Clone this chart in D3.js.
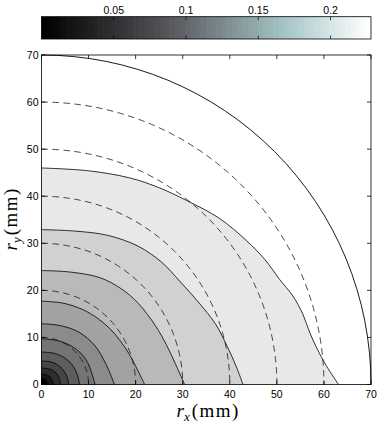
<!DOCTYPE html>
<html>
<head>
<meta charset="utf-8">
<script src="https://cdn.jsdelivr.net/npm/d3@7"></script>
<style>
  body { margin: 0; background: #fff; }
  svg { display: block; }
  text { font-family: "Liberation Sans", Arial, sans-serif; }
  text.title { font-family: "Liberation Serif", "Times New Roman", serif; }
</style>
</head>
<body>
<svg width="382" height="423"></svg>
<script>
'use strict'

// ---- data (mm) ----
var xTicks = [0, 10, 20, 30, 40, 50, 60, 70];
var yTicks = [0, 10, 20, 30, 40, 50, 60, 70];
var cbTicks = [0.05, 0.1, 0.15, 0.2];
var cbDomain = [0, 0.228];

// dashed reference circles
var dashedRadii = [10, 20, 30, 40, 50, 60];
// outer boundary of the data
var boundaryRadius = 70;

// solid contours, innermost first, each from the ry axis to the rx axis
var c1 = [[0, 1.2], [0.7, 1.05], [1.1, 0.6], [1.3, 0]];
var c2 = [[0, 2.2], [1.1, 2.05], [1.8, 1.6], [2.3, 0.9], [2.5, 0]];
var c3 = [[0, 3.5], [1.7, 3.3], [2.8, 2.7], [3.6, 1.8], [4.1, 0]];
var c4 = [[0, 5.0], [2.2, 4.75], [3.8, 3.9], [4.9, 2.7], [5.5, 1.4], [5.8, 0]];
var c5 = [[0, 6.9], [2.8, 6.6], [5, 5.6], [6.5, 4.2], [7.5, 2.4], [8.1, 0]];
var c6 = [[0, 9.7], [3.3, 9.35], [6.3, 8.2], [8.4, 6.6], [9.8, 4.7], [10.6, 2.6], [11.4, 0]];
var c7 = [[0, 12.9], [3.5, 12.6], [7.2, 11.5], [9.8, 9.8], [11.7, 7.8], [13.1, 5.5], [14.3, 3], [15.5, 0]];
var c8 = [[0, 17.7], [4.5, 17.3], [8.8, 15.9], [12, 14], [14.6, 11.8], [16.8, 9.2], [18.6, 6.5],
          [20.2, 3.5], [21.9, 0]];
var c9 = [[0, 24.2], [6, 23.9], [12.4, 22.7], [17, 20.3], [20.6, 17.2], [24.2, 12.5], [26.5, 8.5],
          [28.4, 4.5], [30.4, 0]];
var c10 = [[0, 32.9], [7, 32.6], [14, 31.7], [20.5, 29.4], [25.5, 26], [29.5, 21.8], [33.5, 17.3],
           [37, 12.8], [39.5, 8], [41.3, 4], [42.8, 0]];
var c11 = [[0, 46], [10, 45.4], [18.7, 43.9], [25, 41.8], [30.8, 39.1], [37.8, 35.3], [43.5, 30.6],
           [47.5, 26.5], [50.6, 22.3], [53.4, 18.8], [55.5, 15], [57, 11], [58.6, 7.5], [60.5, 4],
           [63.1, 0]];
var contours = [c1, c2, c3, c4, c5, c6, c7, c8, c9, c10, c11];

// ---- layout ----
var svg = d3.select("svg"),
  margin = { top: 55, right: 11, bottom: 38.5, left: 41.5 },
  width = +svg.attr("width") - margin.left - margin.right,
  height = +svg.attr("height") - margin.top - margin.bottom;

var x = d3.scaleLinear().domain([0, 70]).range([margin.left, margin.left + width]);
var y = d3.scaleLinear().domain([0, 70]).range([margin.top + height, margin.top]);

// gray level of the region enclosed by contour k (outermost region is white)
var shade = d3.scaleLinear().domain([0, contours.length]).range(["#000", "#fff"]);

var line = d3.line()
  .curve(d3.curveCatmullRom.alpha(0.5))
  .x(function(d) { return x(d[0]); })
  .y(function(d) { return y(d[1]); });

var plot = svg.append("g");

// fills, outer to inner
for (var k = contours.length - 1; k >= 0; k--) {
  plot.append("path")
    .attr("d", line(contours[k]) + "L" + x(0) + "," + y(0) + "Z")
    .attr("fill", shade(k))
    .attr("stroke", "none");
}
contours.forEach(function(c) {
  plot.append("path")
    .attr("d", line(c))
    .attr("fill", "none")
    .attr("stroke", "#000")
    .attr("stroke-width", 0.8);
});

// quarter circles
function quarter(r) {
  var p = d3.path(), R = x(r) - x(0);
  p.moveTo(x(0), y(0) - R);
  p.arc(x(0), y(0), R, -Math.PI / 2, 0);
  return p.toString();
}

plot.selectAll(".dash")
  .data(dashedRadii)
  .enter()
  .append("path")
  .attr("class", "dash")
  .attr("d", quarter)
  .attr("fill", "none")
  .attr("stroke", "#1a1a1a")
  .attr("stroke-width", 0.8)
  .attr("stroke-dasharray", "6.5,4.5");

plot.append("path")
  .attr("d", quarter(boundaryRadius))
  .attr("fill", "none")
  .attr("stroke", "#000")
  .attr("stroke-width", 0.9);

// ---- axes (ticks inward on all sides) ----
var tl = 4;
var axes = svg.append("g").attr("stroke", "#000").attr("stroke-width", 0.8);
axes.append("rect")
  .attr("x", x(0)).attr("y", y(70))
  .attr("width", x(70) - x(0)).attr("height", y(0) - y(70))
  .attr("fill", "none");
xTicks.forEach(function(t) {
  axes.append("line").attr("x1", x(t)).attr("x2", x(t)).attr("y1", y(0)).attr("y2", y(0) - tl);
  axes.append("line").attr("x1", x(t)).attr("x2", x(t)).attr("y1", y(70)).attr("y2", y(70) + tl);
});
yTicks.forEach(function(t) {
  axes.append("line").attr("y1", y(t)).attr("y2", y(t)).attr("x1", x(0)).attr("x2", x(0) + tl);
  axes.append("line").attr("y1", y(t)).attr("y2", y(t)).attr("x1", x(70)).attr("x2", x(70) - tl);
});

svg.selectAll(".xlab")
  .data(xTicks)
  .enter()
  .append("text")
  .attr("class", "xlab")
  .attr("x", function(d) { return x(d); })
  .attr("y", 397.5)
  .attr("text-anchor", "middle")
  .attr("font-size", 10.5)
  .text(function(d) { return d; });

svg.selectAll(".ylab")
  .data(yTicks)
  .enter()
  .append("text")
  .attr("class", "ylab")
  .attr("x", 38.5)
  .attr("y", function(d) { return y(d) + 3.7; })
  .attr("text-anchor", "end")
  .attr("font-size", 10.5)
  .text(function(d) { return d; });

// axis titles: r_x (mm), r_y (mm)
function title(g, sub) {
  var t = g.append("text")
    .attr("class", "title")
    .attr("font-size", 19)
    .attr("text-anchor", "middle");
  t.append("tspan").attr("font-style", "italic").text("r");
  t.append("tspan").attr("font-style", "italic").attr("font-size", 13).attr("dy", 3.5).text(sub);
  t.append("tspan").attr("dy", -3.5).attr("dx", 2).attr("letter-spacing", 1.5).text("(mm)");
  return t;
}
title(svg.append("g").attr("transform", "translate(" + (x(35) + 2) + ",417)"), "x");
title(svg.append("g").attr("transform", "translate(17," + (y(35) - 1) + ") rotate(-90)"), "y");

// ---- colorbar (bone-like colormap) ----
function bone(t) {
  var hr = Math.min(1, t / 0.375),
    hg = Math.max(0, Math.min(1, (t - 0.375) / 0.375)),
    hb = Math.max(0, Math.min(1, (t - 0.75) / 0.25));
  return d3.rgb((7 * t + hb) / 8 * 255,
                (7 * t + hg) / 8 * 255,
                ((7 * t + hg) / 8 + 0.03 * hr * (1 - t)) * 255);
}
var cbX = d3.scaleLinear().domain(cbDomain).range([x(0), x(70)]);
var cbTop = 16.7, cbBottom = 39;
var nSteps = 64;
var cb = svg.append("g");
cb.selectAll("rect")
  .data(d3.range(nSteps))
  .enter()
  .append("rect")
  .attr("x", function(i) { return cbX(cbDomain[0] + (cbDomain[1] - cbDomain[0]) * i / nSteps); })
  .attr("width", (cbX(cbDomain[1]) - cbX(cbDomain[0])) / nSteps + 0.6)
  .attr("y", cbTop)
  .attr("height", cbBottom - cbTop)
  .attr("fill", function(i) { return bone(i / (nSteps - 1)); });
cb.append("rect")
  .attr("x", cbX(cbDomain[0])).attr("y", cbTop)
  .attr("width", cbX(cbDomain[1]) - cbX(cbDomain[0])).attr("height", cbBottom - cbTop)
  .attr("fill", "none").attr("stroke", "#000").attr("stroke-width", 0.8);
cbTicks.forEach(function(t) {
  cb.append("line").attr("x1", cbX(t)).attr("x2", cbX(t)).attr("y1", cbBottom).attr("y2", cbBottom - 3.5)
    .attr("stroke", "#000").attr("stroke-width", 0.7);
  cb.append("line").attr("x1", cbX(t)).attr("x2", cbX(t)).attr("y1", cbTop).attr("y2", cbTop + 3.5)
    .attr("stroke", "#000").attr("stroke-width", 0.7);
  cb.append("text")
    .attr("x", cbX(t)).attr("y", 13.5)
    .attr("text-anchor", "middle")
    .attr("font-size", 10.5)
    .text(t);
});
</script>
</body>
</html>
